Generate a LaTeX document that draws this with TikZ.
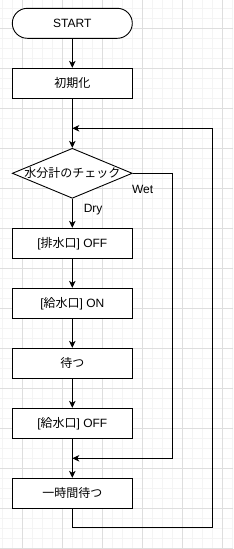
\documentclass[tikz,border=0pt]{standalone}
\usepackage{fontspec}
\setmainfont{Liberation Sans}
\newfontfamily\cjk{Noto Sans CJK JP}
\usetikzlibrary{shapes.geometric,arrows.meta}
\definecolor{gminor}{RGB}{244,244,244}
\definecolor{gmajor}{RGB}{222,222,222}
\tikzset{
  gridminor/.style={draw=gminor,line width=0.8pt},
  gridmajor/.style={draw=gmajor,line width=0.8pt},
  box/.style={draw=black,line width=0.9pt,minimum width=120pt,minimum height=30pt,inner sep=0pt,font=\fontsize{12}{14}\selectfont,fill=white},
  startbox/.style={box,rounded corners=15pt},
  decision/.style={draw=black,line width=0.9pt,diamond,minimum width=120pt,minimum height=50pt,inner sep=0pt,font=\fontsize{12}{14}\selectfont,fill=white},
  arr/.style={-{Stealth[length=7pt,width=6.5pt,inset=2pt]},line width=0.9pt},
  conn/.style={line width=0.9pt},
  lbl/.style={font=\fontsize{12}{14}\selectfont,inner sep=0pt}
}
\begin{document}
\begin{tikzpicture}[x=1pt,y=-1pt]
\useasboundingbox[fill=white] (0,0) rectangle (233,549);
\foreach \g in {2.3,12.3,...,232.3} \draw[gridminor] (\g,0) -- (\g,549);
\foreach \g in {8.3,18.3,...,548.3} \draw[gridminor] (0,\g) -- (233,\g);
\foreach \g in {22.3,62.3,...,232.3} \draw[gridmajor] (\g,0) -- (\g,549);
\foreach \g in {28.3,68.3,...,548.3} \draw[gridmajor] (0,\g) -- (233,\g);

\node[startbox] (start) at (72.3,23.3) {START};
\node[box] (init) at (72.3,83.3) {\cjk 初期化};
\node[decision] (chk) at (72.3,173.3) {\makebox[0pt]{\cjk 水分計のチェック}};
\node[box] (b1) at (72.3,243.3) {[{\cjk 排水口}] OFF};
\node[box] (b2) at (72.3,303.3) {[{\cjk 給水口}] ON};
\node[box] (b3) at (72.3,363.3) {\cjk 待つ};
\node[box] (b4) at (72.3,423.3) {[{\cjk 給水口}] OFF};
\node[box] (b5) at (72.3,493.3) {\cjk 一時間待つ};

\coordinate (j1) at (72.3,128.3);
\coordinate (j2) at (72.3,458.3);
\coordinate (wr) at (172.3,173.3);
\coordinate (lb) at (72.3,527.7);
\coordinate (rb) at (212.3,527.7);
\coordinate (rt) at (212.3,128.3);

\draw[arr] (start) -- (init);
\draw[arr] (init) -- (chk);
\draw[arr] (chk) -- node[lbl,pos=0.36,anchor=west,xshift=11pt]{Dry} (b1);
\draw[arr] (b1) -- (b2);
\draw[arr] (b2) -- (b3);
\draw[arr] (b3) -- (b4);
\draw[arr] (b4) -- (b5);
\draw[arr] (chk.east) -- node[lbl,pos=0.25,yshift=-15.7pt]{Wet} (wr) |- (j2);
\draw[arr] (b5.south) -- (lb) -- (rb) -- (rt) -- (j1);
\end{tikzpicture}
\end{document}
